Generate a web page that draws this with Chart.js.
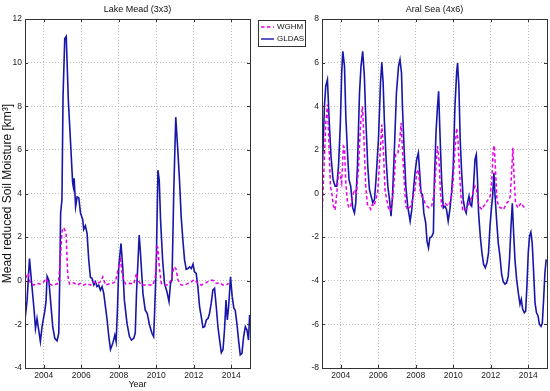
<!DOCTYPE html>
<html lang="en">
<head>
<meta charset="UTF-8">
<title>Lake Mead / Aral Sea</title>
<script src="https://cdn.jsdelivr.net/npm/chart.js"></script>
<style>
  body { margin: 0; background: #fff; }
  #wrap { position: relative; width: 550px; height: 391px; }
  canvas { position: absolute; top: 0; }
</style>
</head>
<body>
<div id="wrap">
  <div style="position:absolute;left:0;top:0;width:310px;height:391px"><canvas id="mead"></canvas></div>
  <div style="position:absolute;left:275px;top:0;width:275px;height:391px"><canvas id="aral"></canvas></div>
</div>
<script>
// x ticks (years)
const xTicks = [2004, 2006, 2008, 2010, 2012, 2014];

// Lake Mead, GLDAS
const meadGldasYears = [2003.02,2003.11,2003.24,2003.34,2003.47,2003.56,2003.64,2003.82,2003.91,2004.05,2004.12,2004.18,2004.27,2004.36,2004.48,2004.59,2004.71,2004.80,2004.86,2004.90,2004.97,2005.03,2005.12,2005.20,2005.31,2005.45,2005.54,2005.58,2005.62,2005.70,2005.78,2005.87,2005.96,2006.08,2006.13,2006.22,2006.31,2006.40,2006.49,2006.58,2006.67,2006.76,2006.84,2006.93,2007.02,2007.11,2007.20,2007.29,2007.38,2007.47,2007.56,2007.68,2007.79,2007.86,2007.93,2008.00,2008.12,2008.21,2008.30,2008.44,2008.57,2008.68,2008.80,2008.88,2008.95,2009.09,2009.16,2009.29,2009.41,2009.52,2009.64,2009.77,2009.86,2009.91,2010.00,2010.09,2010.16,2010.23,2010.34,2010.44,2010.57,2010.68,2010.76,2010.84,2010.94,2011.04,2011.16,2011.24,2011.33,2011.42,2011.51,2011.60,2011.69,2011.78,2011.87,2011.96,2012.04,2012.13,2012.22,2012.31,2012.40,2012.49,2012.58,2012.67,2012.76,2012.84,2012.93,2013.02,2013.11,2013.20,2013.29,2013.38,2013.47,2013.56,2013.64,2013.72,2013.79,2013.86,2013.96,2014.05,2014.14,2014.21,2014.30,2014.39,2014.48,2014.57,2014.66,2014.75,2014.84,2014.92,2014.98];
const meadGldas = [-1.65,-0.90,1.02,0.03,-1.19,-2.19,-1.73,-2.79,-2.10,-1.42,-0.96,0.21,0.03,-0.89,-2.11,-2.64,-2.75,-2.41,0.5,3.1,3.7,8.5,11.1,11.2,8.3,6.0,4.5,4.3,4.7,3.4,3.85,3.8,3.1,2.8,2.35,2.52,2.17,0.95,0.15,0.11,-0.20,-0.05,-0.27,-0.20,-0.43,-0.27,-0.58,-1.19,-1.80,-2.56,-3.15,-2.87,-2.49,-2.79,-1.34,0.64,1.71,0.64,-0.89,-1.95,-2.56,-2.72,-2.64,-2.4,-0.5,2.1,1.25,-0.58,-1.34,-1.50,-2.03,-2.41,-2.56,-1.50,0.79,5.07,4.60,2.78,0.95,-0.12,-0.50,-0.96,-0.12,0.03,4.30,7.5,5.83,4.60,2.93,1.86,0.95,0.52,0.56,0.64,0.56,0.76,0.41,0.34,-0.27,-1.19,-1.65,-2.14,-2.11,-1.80,-1.73,-1.50,-1.04,-0.43,-0.35,-1.19,-2.11,-2.72,-3.30,-3.15,-2.26,-0.89,-1.80,-1.19,0.18,-0.73,-1.27,-1.34,-1.95,-2.72,-3.40,-3.33,-2.56,-2.11,-2.26,-2.72,-1.57];

// Lake Mead, WGHM
const meadWghmYears = [2003.02,2003.16,2003.29,2003.47,2003.64,2003.82,2004.00,2004.12,2004.23,2004.44,2004.71,2004.80,2004.89,2004.98,2005.07,2005.19,2005.28,2005.37,2005.60,2005.78,2005.96,2006.13,2006.31,2006.49,2006.67,2006.84,2007.02,2007.15,2007.29,2007.47,2007.64,2007.82,2007.96,2008.09,2008.21,2008.36,2008.62,2008.80,2008.95,2009.02,2009.20,2009.56,2009.82,2009.95,2010.05,2010.09,2010.16,2010.27,2010.44,2010.62,2010.80,2010.94,2011.05,2011.16,2011.33,2011.51,2011.69,2011.87,2012.04,2012.22,2012.40,2012.67,2012.90,2013.08,2013.20,2013.38,2013.56,2013.73,2013.86];
const meadWghm = [0.1,0.34,-0.12,-0.20,-0.12,-0.15,-0.05,0.11,-0.12,-0.20,-0.15,0.03,1.10,2.29,2.44,2.17,0.26,-0.15,-0.09,-0.20,-0.12,-0.20,-0.12,-0.20,-0.05,-0.15,-0.05,0.18,-0.20,-0.15,-0.12,-0.05,0.49,0.95,0.18,-0.15,-0.12,-0.15,0.34,0.03,-0.20,-0.20,-0.20,0.18,1.56,1.5,0.64,-0.12,-0.20,-0.20,0.03,0.64,0.56,0.03,-0.20,-0.20,-0.12,-0.05,0.06,-0.12,-0.20,-0.09,0.03,0.0,-0.12,-0.09,-0.20,-0.20,-0.12];

// Aral Sea, GLDAS
const aralGldasYears = [2003.02,2003.13,2003.20,2003.29,2003.38,2003.48,2003.59,2003.70,2003.79,2003.88,2003.98,2004.05,2004.11,2004.20,2004.27,2004.36,2004.44,2004.53,2004.64,2004.73,2004.80,2004.89,2005.00,2005.08,2005.17,2005.26,2005.33,2005.44,2005.53,2005.62,2005.71,2005.80,2005.88,2006.01,2006.12,2006.19,2006.26,2006.33,2006.42,2006.51,2006.60,2006.68,2006.76,2006.86,2006.97,2007.08,2007.16,2007.24,2007.29,2007.38,2007.47,2007.57,2007.70,2007.79,2007.88,2007.96,2008.05,2008.14,2008.21,2008.28,2008.36,2008.43,2008.53,2008.60,2008.68,2008.75,2008.85,2008.94,2008.99,2009.08,2009.16,2009.22,2009.29,2009.38,2009.47,2009.56,2009.64,2009.73,2009.82,2009.91,2010.00,2010.09,2010.18,2010.23,2010.30,2010.37,2010.44,2010.53,2010.62,2010.69,2010.76,2010.84,2010.91,2010.98,2011.07,2011.16,2011.23,2011.30,2011.35,2011.44,2011.53,2011.62,2011.71,2011.80,2011.88,2011.96,2012.03,2012.10,2012.17,2012.22,2012.31,2012.40,2012.49,2012.58,2012.67,2012.76,2012.84,2012.93,2013.00,2013.08,2013.15,2013.22,2013.29,2013.38,2013.47,2013.56,2013.63,2013.70,2013.79,2013.86,2013.93,2014.00,2014.07,2014.14,2014.21,2014.28,2014.36,2014.44,2014.52,2014.59,2014.68,2014.75,2014.82,2014.89,2014.96];
const aralGldas = [1.18,4.00,4.92,5.22,3.40,1.71,0.64,0.34,0.34,1.25,3.24,5.53,6.52,5.83,3.54,1.86,0.64,0.34,-0.66,-0.89,-0.43,1.25,4.61,5.83,6.52,5.37,3.54,1.25,0.18,-0.12,-0.43,-0.27,0.64,2.47,5.07,6.02,5.07,3.24,1.56,0.34,-0.27,-1.04,-0.12,2.02,4.61,5.83,6.14,5.53,4.00,2.02,0.34,-0.58,-1.27,-0.73,0.18,0.95,1.56,1.86,0.95,0.03,-0.05,-0.89,-1.34,-2.18,-2.49,-2.03,-1.98,-1.80,0.49,2.78,4.00,4.69,2.78,0.64,-0.66,-0.58,-0.73,-1.27,-0.73,0.03,1.25,4.00,5.53,5.98,4.92,2.47,1.10,-0.27,-0.73,-0.89,-0.43,-0.12,-0.50,-0.58,0.18,1.56,1.78,0.49,-0.89,-1.95,-2.72,-3.25,-3.40,-3.17,-2.72,-1.50,-0.73,-0.12,0.95,0.03,-1.19,-2.26,-2.87,-3.70,-4.05,-4.15,-4.10,-3.80,-3.00,-1.50,-0.45,-1.80,-3.02,-3.94,-4.55,-5.08,-4.85,-5.30,-5.47,-5.40,-4.24,-2.72,-1.95,-1.77,-2.26,-3.48,-5.00,-5.47,-5.60,-5.98,-6.09,-5.95,-4.85,-3.63,-3.02];

// Aral Sea, WGHM
const aralWghmYears = [2003.02,2003.11,2003.20,2003.29,2003.38,2003.45,2003.52,2003.61,2003.70,2003.79,2003.88,2003.96,2004.05,2004.14,2004.20,2004.27,2004.36,2004.44,2004.53,2004.64,2004.73,2004.84,2004.94,2005.05,2005.16,2005.24,2005.33,2005.42,2005.51,2005.60,2005.69,2005.78,2005.87,2005.97,2006.08,2006.19,2006.28,2006.36,2006.45,2006.54,2006.63,2006.72,2006.83,2006.93,2007.04,2007.15,2007.22,2007.29,2007.40,2007.47,2007.56,2007.64,2007.75,2007.84,2007.96,2008.05,2008.14,2008.23,2008.32,2008.41,2008.50,2008.60,2008.71,2008.85,2008.99,2009.08,2009.16,2009.24,2009.31,2009.38,2009.47,2009.56,2009.64,2009.73,2009.82,2009.91,2010.00,2010.09,2010.18,2010.25,2010.32,2010.41,2010.50,2010.59,2010.68,2010.76,2010.85,2010.94,2011.05,2011.16,2011.24,2011.33,2011.44,2011.53,2011.62,2011.71,2011.80,2011.88,2011.97,2012.06,2012.13,2012.19,2012.26,2012.33,2012.42,2012.51,2012.60,2012.68,2012.77,2012.86,2012.95,2013.04,2013.11,2013.18,2013.25,2013.32,2013.40,2013.47,2013.56,2013.64,2013.73,2013.82,2013.89];
const aralWghm = [-0.66,1.25,3.24,4.08,2.02,0.34,0.03,-0.58,-0.76,0.03,0.95,0.95,0.49,2.17,2.10,0.49,-0.43,-0.66,-0.58,-0.12,0.18,0.03,1.10,3.08,4.00,2.47,0.34,-0.50,-0.58,-0.73,-0.50,-0.58,-0.27,0.03,1.56,3.16,1.86,0.18,-0.27,-0.66,-0.81,-0.58,0.34,1.79,1.79,2.47,3.24,2.02,0.34,-0.58,-0.73,-0.66,-0.58,-0.20,0.18,0.95,1.10,0.18,-0.12,-0.27,-0.43,-0.58,-0.66,-0.58,0.03,1.25,2.17,1.56,0.18,-0.58,-0.50,-0.43,-0.50,-0.58,-0.43,-0.12,0.64,2.02,3.00,2.47,1.25,-0.12,-0.73,-0.81,-0.73,-0.58,-0.43,-0.27,0.03,0.34,0.18,-0.43,-0.66,-0.73,-0.58,-0.50,-0.35,-0.27,-0.12,0.64,2.02,2.20,0.95,-0.27,-0.58,-0.66,-0.66,-0.73,-0.58,-0.43,-0.35,-0.12,0.95,2.10,0.64,-0.43,-0.58,-0.66,-0.50,-0.43,-0.58,-0.66,-0.73];

const pts = (xs, ys) => xs.map((x, i) => ({ x: x, y: ys[i] }));

const FONT = "'Liberation Sans', Arial, Helvetica, sans-serif";
const BLUE = '#1616a8';
const MAGENTA = '#e600e6';

// box + inward tick marks, like matlab axes
const boxPlugin = {
  id: 'box',
  afterDraw(chart) {
    const { ctx, chartArea: a, scales } = chart;
    ctx.save();
    ctx.strokeStyle = '#333';
    ctx.lineWidth = 1;
    ctx.beginPath();
    scales.x.ticks.forEach(t => {
      const px = Math.round(scales.x.getPixelForValue(t.value)) + 0.5;
      ctx.moveTo(px, a.bottom); ctx.lineTo(px, a.bottom - 3);
      ctx.moveTo(px, a.top); ctx.lineTo(px, a.top + 3);
    });
    scales.y.ticks.forEach(t => {
      const py = Math.round(scales.y.getPixelForValue(t.value)) + 0.5;
      ctx.moveTo(a.left, py); ctx.lineTo(a.left + 3, py);
      ctx.moveTo(a.right, py); ctx.lineTo(a.right - 3, py);
    });
    ctx.stroke();
    ctx.strokeRect(Math.round(a.left) + 0.5, Math.round(a.top) + 0.5,
                   Math.round(a.right - a.left), Math.round(a.bottom - a.top));
    ctx.restore();
  }
};

// legend box to the right of the left axes
const legendPlugin = {
  id: 'boxLegend',
  afterDraw(chart, args, opts) {
    if (!opts.show) return;
    const { ctx, chartArea: a } = chart;
    const x = a.right + 8, y = a.top + 1, w = 47, h = 26;
    ctx.save();
    ctx.fillStyle = '#fff';
    ctx.fillRect(x, y, w, h);
    ctx.strokeStyle = '#333';
    ctx.lineWidth = 1;
    ctx.strokeRect(x + 0.5, y + 0.5, w, h);
    ctx.font = '8px ' + FONT;
    ctx.textBaseline = 'middle';
    chart.data.datasets.forEach((ds, i) => {
      const ly = y + 7 + i * 12;
      ctx.strokeStyle = ds.borderColor;
      ctx.lineWidth = 1.4;
      ctx.setLineDash(ds.borderDash || []);
      ctx.beginPath();
      ctx.moveTo(x + 3, ly); ctx.lineTo(x + 16, ly);
      ctx.stroke();
      ctx.setLineDash([]);
      ctx.fillStyle = '#111';
      ctx.fillText(ds.label, x + 19, ly);
    });
    ctx.restore();
  }
};

function makeChart(id, title, gldas, wghm, yMin, yMax, yAxisW, padRight, yTitle, xTitle, showLegend) {
  const ctx = document.getElementById(id).getContext('2d');
  return new Chart(ctx, {
    type: 'line',
    data: {
      datasets: [{
        label: 'WGHM',
        data: wghm,
        borderColor: MAGENTA,
        borderWidth: 1.5,
        borderDash: [3.5, 2.5],
        pointRadius: 0,
        tension: 0,
        fill: false
      }, {
        label: 'GLDAS',
        data: gldas,
        borderColor: BLUE,
        borderWidth: 1.6,
        pointRadius: 0,
        tension: 0,
        fill: false
      }]
    },
    options: {
      responsive: true,
      maintainAspectRatio: false,
      animation: false,
      layout: { padding: { left: 0, right: padRight, top: 0, bottom: 0 } },
      plugins: {
        legend: { display: false },
        tooltip: { enabled: false },
        title: {
          display: true,
          text: title,
          fullSize: false,
          color: '#111',
          font: { family: FONT, size: 9, weight: 'normal' },
          padding: { top: 4, bottom: 4.2 }
        },
        boxLegend: { show: showLegend }
      },
      scales: {
        x: {
          type: 'linear',
          min: 2003,
          max: 2015,
          afterBuildTicks: s => { s.ticks = xTicks.map(v => ({ value: v })); },
          afterFit: s => { s.height = 23; },
          grid: { color: '#bdbdbd', drawTicks: false },
          border: { display: false, dash: [1, 2] },
          ticks: {
            padding: 3,
            color: '#222',
            font: { family: FONT, size: 8.5 },
            callback: v => String(v)
          },
          title: {
            display: !!xTitle,
            text: xTitle,
            color: '#111',
            font: { family: FONT, size: 9 },
            padding: { top: 0, bottom: 1.5 }
          }
        },
        y: {
          min: yMin,
          max: yMax,
          afterFit: s => { s.width = yAxisW; },
          grid: { color: '#bdbdbd', drawTicks: false },
          border: { display: false, dash: [1, 2] },
          ticks: {
            stepSize: 2,
            padding: 3,
            color: '#222',
            font: { family: FONT, size: 8.5 },
            callback: v => String(v)
          },
          title: {
            display: !!yTitle,
            text: yTitle,
            color: '#111',
            font: { family: FONT, size: 12 },
            padding: { top: 0, bottom: 0 }
          }
        }
      }
    },
    plugins: [boxPlugin, legendPlugin]
  });
}

makeChart('mead', 'Lake Mead (3x3)', pts(meadGldasYears, meadGldas), pts(meadWghmYears, meadWghm),
  -4, 12, 25, 60, 'Mead reduced Soil Moisture [km\u00B3]', 'Year', true);
makeChart('aral', 'Aral Sea (4x6)', pts(aralGldasYears, aralGldas), pts(aralWghmYears, aralWghm),
  -8, 8, 47, 3, '', '', false);
</script>
</body>
</html>
